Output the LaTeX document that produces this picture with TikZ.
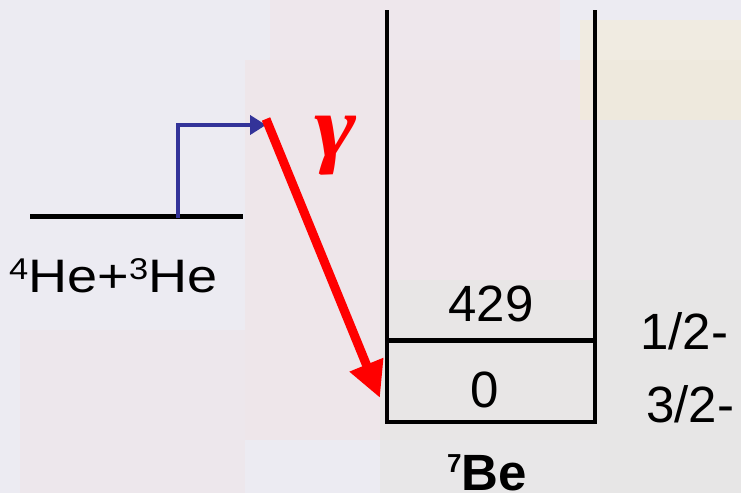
\documentclass[tikz,border=0pt]{standalone}
\usepackage{fontspec}
\setmainfont{Liberation Sans}
\newfontfamily\grkfont{Liberation Serif}
\usetikzlibrary{arrows.meta}
\definecolor{bgbase}{HTML}{ECEBF2}
\definecolor{bgpink}{HTML}{F1E2E3}
\definecolor{bggrey}{HTML}{E7E6E6}
\definecolor{bgyel}{HTML}{F3EBD6}
\definecolor{bluearr}{HTML}{333399}
\tikzset{
  level/.style={line width=5pt},
  wall/.style={line width=3.5pt},
  midlevel/.style={line width=5pt},
  feed/.style={bluearr, line width=4.5pt, -{Triangle[length=16pt,width=19pt]}},
  gammaarr/.style={red, line width=9pt, -{Triangle[length=36pt,width=34pt]}},
  lbl/.style={inner sep=0pt, font=\fontsize{51}{51}\selectfont}
}
\begin{document}
\begin{tikzpicture}[x=1pt,y=-1pt]
\fill[bgbase] (0,0) rectangle (741,493);
\useasboundingbox (0,0) rectangle (741,493);
% soft background patches
\fill[bgpink, opacity=0.5] (245,60) rectangle (600,440);
\fill[bgpink, opacity=0.35] (20,330) rectangle (245,493);
\fill[bggrey, opacity=0.8] (600,60) rectangle (741,493);
\fill[bggrey, opacity=0.8] (380,280) rectangle (741,493);
\fill[bgyel, opacity=0.6] (580,20) rectangle (741,120);
\fill[bgpink, opacity=0.4] (270,0) rectangle (560,60);
% reactant level
\coordinate (L1) at (30,216);
\coordinate (L2) at (243,216);
\draw[level] (L1) -- (L2);
\node[lbl, font=\fontsize{47}{47}\selectfont, anchor=west, xscale=1.15, transform shape] (he) at (9,276) {\raisebox{13pt}{\fontsize{30}{30}\selectfont 4}He+\raisebox{13pt}{\fontsize{30}{30}\selectfont 3}He};
% feed arrow
\coordinate (B0) at (178,218);
\coordinate (Bt) at (266,125);
\draw[feed] (B0) |- (Bt);
% gamma transition
\coordinate (R0) at (266,119);
\coordinate (R1) at (380,398);
\draw[gammaarr] (R0) -- (R1);
\node[inner sep=0pt, text=red, font=\grkfont\bfseries\itshape\fontsize{88}{88}\selectfont, xscale=1.15, transform shape] (gam) at (336,146) {γ};
% 7Be well
\coordinate (TL) at (387,10);
\coordinate (TR) at (595,10);
\coordinate (BL) at (387,422);
\coordinate (BR) at (595,422);
\coordinate (ML) at (387,340);
\coordinate (MR) at (595,340);
\draw[wall] (TL) -- (BL) -- (BR) -- (TR);
\draw[midlevel] (ML) -- (MR);
\node[lbl] (e429) at (491,304) {429};
\node[lbl] (e0) at (485,390) {0};
\node[lbl, anchor=west] (j1) at (640,331) {1/2-};
\node[lbl, anchor=west] (j2) at (646,404) {3/2-};
\node[lbl, font=\bfseries\fontsize{51}{51}\selectfont, anchor=base] (be) at (487,490) {\raisebox{18pt}{\fontsize{26}{26}\selectfont 7}Be};
\end{tikzpicture}
\end{document}
